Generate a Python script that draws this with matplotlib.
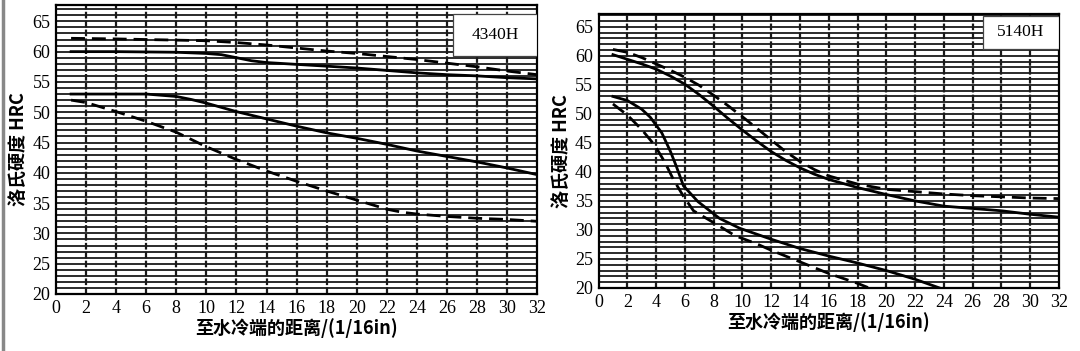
import numpy as np
import matplotlib.pyplot as plt
from matplotlib.patches import Rectangle
from matplotlib.lines import Line2D

plt.rcParams['font.family'] = ['Liberation Serif', 'Noto Sans CJK SC']

# 4340H
x_4340_hi_dash = [1, 4, 8, 10, 12, 14, 16, 18, 20, 22, 24, 26, 28, 30, 32]
y_4340_hi_dash = [62.2, 62.1, 61.9, 61.8, 61.5, 61.1, 60.6, 60.1, 59.7, 59.2, 58.7, 58.1, 57.5, 56.8, 56.2]
x_4340_hi_sol = [1, 4, 8, 10, 11, 12, 13, 14, 16, 18, 20, 22, 24, 26, 28, 30, 32]
y_4340_hi_sol = [60.0, 60.0, 59.9, 59.7, 59.5, 59.0, 58.5, 58.2, 57.9, 57.6, 57.3, 56.9, 56.5, 56.2, 56.0, 55.7, 55.5]
x_4340_lo_sol = [1, 4, 6, 7, 8, 9, 10, 12, 14, 16, 18, 20, 22, 24, 26, 28, 30, 32]
y_4340_lo_sol = [53.0, 53.0, 53.0, 52.8, 52.6, 52.1, 51.5, 50.1, 48.9, 47.7, 46.6, 45.7, 44.7, 43.6, 42.7, 41.8, 40.8, 39.7]
x_4340_lo_dash = [1, 2, 4, 6, 8, 10, 12, 14, 16, 18, 20, 22, 23, 24, 26, 28, 30, 32]
y_4340_lo_dash = [52.0, 51.6, 50.1, 48.5, 46.7, 44.3, 42.2, 40.3, 38.6, 37.0, 35.5, 34.0, 33.5, 33.2, 32.8, 32.5, 32.3, 32.0]

# 5140H
x_5140_hi_dash = [1, 2, 3, 4, 5, 6, 7, 8, 9, 10, 11, 12, 13, 14, 15, 16, 18, 20, 22, 24, 26, 28, 30, 32]
y_5140_hi_dash = [61.1, 60.6, 59.7, 58.6, 57.5, 56.3, 54.9, 53.2, 51.4, 49.5, 47.5, 45.5, 43.5, 41.8, 40.4, 39.3, 37.9, 37.0, 36.6, 36.2, 35.9, 35.7, 35.5, 35.4]
x_5140_hi_sol = [1, 2, 3, 4, 5, 6, 7, 8, 9, 10, 11, 12, 13, 14, 15, 16, 18, 20, 22, 24, 26, 28, 30, 32]
y_5140_hi_sol = [60.2, 59.4, 58.6, 57.7, 56.5, 55.1, 53.3, 51.3, 49.2, 47.2, 45.3, 43.5, 42.0, 40.7, 39.6, 38.7, 37.3, 36.1, 35.0, 34.1, 33.7, 33.3, 32.7, 32.2]
x_5140_lo_sol = [1, 2, 3, 3.6, 4.4, 5.0, 5.4, 5.9, 6.9, 8.4, 9.8, 12, 14, 16, 18, 20, 22, 23.7]
y_5140_lo_sol = [53.0, 52.3, 50.8, 49.4, 46.7, 43.5, 41.0, 37.6, 34.9, 32.0, 30.3, 28.4, 26.8, 25.5, 24.3, 23.0, 21.5, 20.0]
x_5140_lo_dash = [1, 2, 3, 3.9, 4.6, 5.2, 5.9, 6.6, 7.9, 9.5, 11, 12, 14, 16, 18, 18.8]
y_5140_lo_dash = [51.7, 49.8, 47.3, 44.6, 41.7, 38.7, 35.8, 33.3, 31.4, 29.0, 27.6, 26.5, 24.5, 22.5, 20.8, 20.0]

x_ticks = list(range(0, 33, 2))
y_ticks = list(range(20, 66, 5))

fig = plt.figure(figsize=(10.8, 3.51), dpi=100)
ax1 = fig.add_axes([0.0519, 0.1624, 0.4454, 0.8234])
ax2 = fig.add_axes([0.5542, 0.1795, 0.4264, 0.7806])

# scan border on the left edge
fig.add_artist(Line2D([0.0025, 0.0025], [0, 1], color='#888888', lw=2.5))

def setup(ax, label, box, ytop):
    ax.set_xlim(0, 32)
    ax.set_ylim(20, ytop)
    for yy in range(20, int(ytop) + 1):
        ax.axhline(yy, color='#1a1a1a', lw=1.3, zorder=1)
    for xx in range(2, 32, 2):
        ax.axvline(xx, color='#1a1a1a', lw=1.6, ls=(0, (3, 1)), zorder=1)
    ax.set_xticks(x_ticks)
    ax.set_yticks(y_ticks)
    ax.tick_params(length=0, labelsize=13, pad=4)
    for s in ax.spines.values():
        s.set_linewidth(1.6)
    ax.set_ylabel('洛氏硬度 HRC', family=['Noto Sans CJK SC'], fontsize=13, fontweight='bold', labelpad=3)
    ax.set_xlabel('至水冷端的距离/(1/16in)', family=['Noto Sans CJK SC', 'Liberation Serif'], fontsize=13, fontweight='bold', labelpad=1)
    x0, y0, x1, y1 = box
    ax.add_patch(Rectangle((x0, y0), x1 - x0, y1 - y0, fc='white', ec='#444444', lw=0.9, zorder=4))
    ax.text((x0 + x1) / 2, (y0 + y1) / 2, label, fontsize=12.5, ha='center', va='center', zorder=5)

setup(ax1, '4340H', (26.4, 59.2, 32, 66.2), 67.7)
setup(ax2, '5140H', (26.7, 61.2, 32, 66.9), 67.2)

kw_s = dict(color='black', lw=2.0, zorder=3)
kw_d = dict(color='black', lw=2.0, ls=(0, (5, 2.5)), zorder=3)

ax1.plot(x_4340_hi_dash, y_4340_hi_dash, **kw_d)
ax1.plot(x_4340_hi_sol, y_4340_hi_sol, **kw_s)
ax1.plot(x_4340_lo_sol, y_4340_lo_sol, **kw_s)
ax1.plot(x_4340_lo_dash, y_4340_lo_dash, **kw_d)

ax2.plot(x_5140_hi_dash, y_5140_hi_dash, **kw_d)
ax2.plot(x_5140_hi_sol, y_5140_hi_sol, **kw_s)
ax2.plot(x_5140_lo_sol, y_5140_lo_sol, **kw_s)
ax2.plot(x_5140_lo_dash, y_5140_lo_dash, **kw_d)

fig.savefig('out.png', dpi=100)
